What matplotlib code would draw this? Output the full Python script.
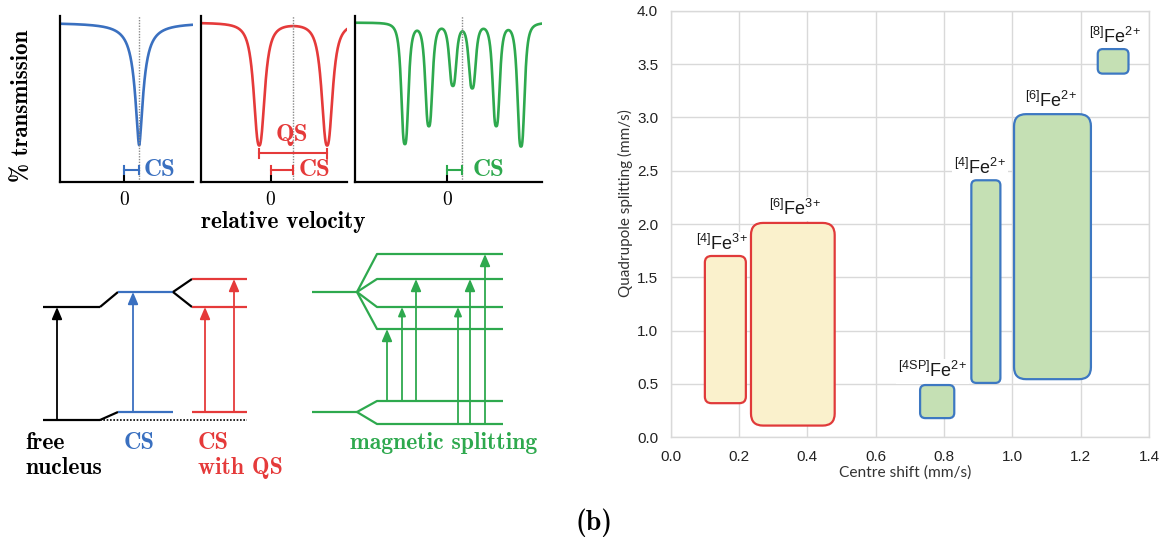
import os
import numpy as np
import matplotlib as mpl
import matplotlib.pyplot as plt
from matplotlib.font_manager import FontProperties
from matplotlib.patches import FancyBboxPatch

W, H = 1162, 541

plt.rcParams['mathtext.fontset'] = 'custom'
plt.rcParams['mathtext.rm'] = 'Liberation Sans'
plt.rcParams['mathtext.it'] = 'Liberation Sans:italic'
plt.rcParams['mathtext.bf'] = 'Liberation Sans:bold'

TTF = os.path.join(mpl.get_data_path(), 'fonts', 'ttf')


def cm(size, bold=True):
    name = 'cmb10.ttf' if bold else 'cmr10.ttf'
    return FontProperties(fname=os.path.join(TTF, name), size=size)


BLUE, RED, GREEN = '#3a70c0', '#e53a3a', '#2ea94e'

# ---- (a) idealised spectra, velocity in mm/s
spec_xlim = [(-1.61, 1.71), (-1.75, 1.92), (-2.29, 2.38)]
spec_colors = [BLUE, RED, GREEN]
spec_cs = [0.37, 0.57, 0.39]
spec_lines = [[0.37],
              [-0.285, 1.415],
              [-1.05, -0.45, 0.15, 0.635, 1.235, 1.855]]
spec_depth = [[0.74],
              [0.74, 0.74],
              [0.73, 0.62, 0.375, 0.39, 0.62, 0.745]]
spec_hwhm = [0.125, 0.155, 0.10]
spec_shape = [1.7, 2.5, 3.0]
baseline = 0.96
qs_span = (-0.285, 1.415)
cs_text_x = [0.49, 0.69, 0.64]

# ---- (a) level diagrams, y in px (downwards)
free_levels = [420, 307]
cs_levels = [412, 292]
qs_excited = [279, 307]
mag_ground = [401, 424]
mag_excited = [254, 279, 307, 329]
mag_transitions = [(0, 3), (0, 2), (0, 1), (1, 2), (1, 1), (1, 0)]
mag_arrow_x = [387, 402, 416, 458, 470, 485]

# ---- (b) centre shift / quadrupole splitting ranges (mm/s)
site_labels = [r'${}^{[4]}\mathrm{Fe}^{3\!+}$', r'${}^{[6]}\mathrm{Fe}^{3\!+}$',
               r'${}^{[4\mathrm{SP}]}\mathrm{Fe}^{2\!+}$', r'${}^{[4]}\mathrm{Fe}^{2\!+}$',
               r'${}^{[6]}\mathrm{Fe}^{2\!+}$', r'${}^{[8]}\mathrm{Fe}^{2\!+}$']
cs_lo = [0.10, 0.235, 0.73, 0.88, 1.005, 1.25]
cs_hi = [0.22, 0.48, 0.83, 0.965, 1.23, 1.34]
qs_lo = [0.32, 0.11, 0.18, 0.51, 0.545, 3.41]
qs_hi = [1.70, 2.01, 0.49, 2.41, 3.03, 3.64]
valence = [3, 3, 2, 2, 2, 2]
label_x = [0.149, 0.365, 0.765, 0.905, 1.112, 1.300]
label_y = [1.755, 2.083, 0.562, 2.465, 3.093, 3.70]

fig = plt.figure(figsize=(W / 100, H / 100), dpi=100)

# pixel-space overlay for the schematic and free text
ov = fig.add_axes([0, 0, 1, 1])
ov.set_xlim(0, W)
ov.set_ylim(H, 0)
ov.axis('off')


def px_axes(x0, x1, y0, y1):
    return fig.add_axes([x0 / W, 1 - y1 / H, (x1 - x0) / W, (y1 - y0) / H])


# spectra
panel_px = [(60, 192.7), (200.7, 347.3), (355.3, 542)]
for i, (x0, x1) in enumerate(panel_px):
    ax = px_axes(x0, x1, 16, 181.7)
    ax.set_facecolor('none')
    c = spec_colors[i]
    v = np.linspace(*spec_xlim[i], 800)
    t = np.full_like(v, baseline)
    for pos, d in zip(spec_lines[i], spec_depth[i]):
        t -= d / (1 + np.abs((v - pos) / spec_hwhm[i]) ** spec_shape[i])
    ax.plot(v, t, color=c, lw=1.9, solid_capstyle='round')
    ax.axvline(spec_cs[i], color='#8a8a8a', lw=1.0, ls=(0, (1, 1)))
    ax.set_xlim(*spec_xlim[i])
    ax.set_ylim(0, 1)
    for s in ['top', 'right']:
        ax.spines[s].set_visible(False)
    for s in ['left', 'bottom']:
        ax.spines[s].set_linewidth(1.6)
    ax.set_yticks([])
    ax.set_xticks([0])
    ax.set_xticklabels(['0'], fontproperties=cm(14, bold=False))
    ax.tick_params(axis='x', direction='in', length=5, width=1.5, pad=7)
    # CS bracket
    yb = 0.0706
    ax.plot([0, spec_cs[i]], [yb, yb], color=c, lw=1.5)
    for xe in [0, spec_cs[i]]:
        ax.plot([xe, xe], [yb - 0.025, yb + 0.025], color=c, lw=1.5)
    ax.text(cs_text_x[i], yb, 'CS', color=c, fontproperties=cm(18),
            ha='left', va='center')
    if i == 1:
        yq = 0.171
        ax.plot(qs_span, [yq, yq], color=c, lw=1.5)
        for xe in qs_span:
            ax.plot([xe, xe], [yq - 0.025, yq + 0.025], color=c, lw=1.5)
        ax.text(0.525, 0.282, 'QS', color=c, fontproperties=cm(18),
                ha='center', va='center')

ov.text(22.5, 106, '% transmission', rotation=90, fontproperties=cm(16.5),
        ha='center', va='center')
ov.text(283.3, 221.7, 'relative velocity', fontproperties=cm(16.8),
        ha='center', va='center')

# level diagrams
LW = 1.6


def seg(xs, ys, c, **kw):
    ov.plot(xs, ys, color=c, lw=kw.pop('lw', LW), solid_capstyle='butt', **kw)


def arrow(x, y0, y1, c, ms=18):
    ov.annotate('', xy=(x, y1), xytext=(x, y0),
                arrowprops=dict(arrowstyle='-|>,head_length=0.4,head_width=0.17',
                                color=c, lw=1.3, shrinkA=0, shrinkB=0,
                                mutation_scale=ms))


g0, e0 = free_levels
g1, e1 = cs_levels
seg([43, 100], [g0, g0], 'k')
seg([43, 100], [e0, e0], 'k')
seg([100, 118], [g0, g1], 'k')
seg([100, 118], [e0, e1], 'k')
seg([100, 247], [g0, g0], 'k', lw=1.2, ls=(0, (1, 1)))
seg([118, 173], [g1, g1], BLUE)
seg([118, 173], [e1, e1], BLUE)
for y in qs_excited:
    seg([173, 192], [e1, y], 'k')
    seg([192, 247], [y, y], RED)
seg([192, 247], [g1, g1], RED)
arrow(57, g0, e0, 'k')
arrow(133, g1, e1, BLUE)
arrow(205, g1, qs_excited[1], RED)
arrow(234, g1, qs_excited[0], RED)

seg([312, 357], [g1, g1], GREEN)
seg([312, 357], [e1, e1], GREEN)
for y in mag_ground:
    seg([357, 377, 503], [g1, y, y], GREEN)
for y in mag_excited:
    seg([357, 377, 503], [e1, y, y], GREEN)
for (gi, ei), x in zip(mag_transitions, mag_arrow_x):
    small = x in (402, 458)
    arrow(x, mag_ground[gi], mag_excited[ei], GREEN, ms=13 if small else 18)

ov.text(25, 443, 'free', fontproperties=cm(17), va='center')
ov.text(25, 468, 'nucleus', fontproperties=cm(17), va='center')
ov.text(124, 443, 'CS', color=BLUE, fontproperties=cm(17.5), va='center')
ov.text(198, 443, 'CS', color=RED, fontproperties=cm(17.5), va='center')
ov.text(198, 468, 'with QS', color=RED, fontproperties=cm(17), va='center')
ov.text(350, 443, 'magnetic splitting', color=GREEN, fontproperties=cm(17),
        va='center')
ov.text(3, 523, '(a)', fontproperties=cm(20), ha='right', va='center')
ov.text(575, 523, '(b)', fontproperties=cm(20), ha='left', va='center')

# (b) chart
ax = px_axes(670.7, 1149, 10.7, 437.3)
ax.set_xlim(0, 1.4)
ax.set_ylim(0, 4)
xt = np.arange(0, 1.41, 0.2)
yt = np.arange(0, 4.01, 0.5)
ax.set_xticks(xt)
ax.set_yticks(yt)
ax.set_xticklabels([f'{v:.1f}' for v in xt], family='Liberation Sans')
ax.set_yticklabels([f'{v:.1f}' for v in yt], family='Liberation Sans')
ax.tick_params(length=0, labelsize=11, labelcolor='#222222')
ax.tick_params(axis='x', pad=9)
ax.tick_params(axis='y', pad=9)
ax.grid(color='#d9d9d9', lw=1.0)
ax.set_axisbelow(True)
for s in ax.spines.values():
    s.set_color('#d9d9d9')
    s.set_linewidth(1.0)

fig.canvas.draw()
ppx = ax.bbox.width / 1.4
ppy = ax.bbox.height / 4.0
for i in range(len(site_labels)):
    w = cs_hi[i] - cs_lo[i]
    h = qs_hi[i] - qs_lo[i]
    r_px = min(max(0.16 * min(w * ppx, h * ppy), 5), 12)
    fc, ec = ('#faf1cc', '#e03a3a') if valence[i] == 3 else ('#c5e0b4', '#3d78c2')
    box = FancyBboxPatch((cs_lo[i], qs_lo[i]), w, h,
                         boxstyle=f'round,pad=0,rounding_size={r_px / ppx}',
                         mutation_aspect=ppx / ppy, fc=fc, ec=ec, lw=1.6, zorder=2)
    ax.add_patch(box)
    # white backing hides the grid behind the label but sits under the boxes
    ax.text(label_x[i], label_y[i], site_labels[i], fontsize=13, color='#1a1a1a',
            ha='center', va='baseline', zorder=1.8,
            bbox=dict(fc='white', ec='none', pad=1.5))

ov.text(905, 473, 'Centre shift (mm/s)', family='Lato', fontsize=11.2,
        color='#333333', ha='center', va='center')
ov.text(625, 203.4, 'Quadrupole splitting (mm/s)', family='Lato', fontsize=11,
        color='#333333', rotation=90, ha='center', va='center')

fig.savefig('out.png', dpi=100)
